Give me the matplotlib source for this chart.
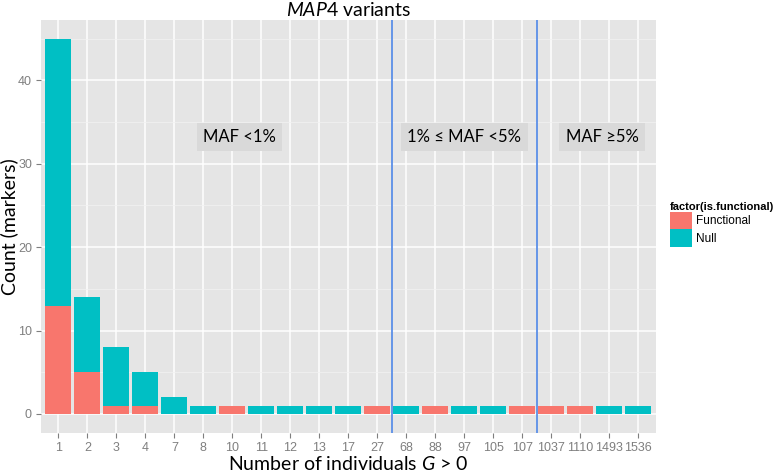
import numpy as np
import matplotlib.pyplot as plt
from matplotlib.patches import Patch

plt.rcParams['mathtext.fontset'] = 'custom'
plt.rcParams['mathtext.it'] = 'Lato:italic'
plt.rcParams['mathtext.rm'] = 'Lato'

# data
categories = ['1', '2', '3', '4', '7', '8', '10', '11', '12', '13', '17', '27',
              '68', '88', '97', '105', '107', '1037', '1110', '1493', '1536']
functional = [13, 5, 1, 1, 0, 0, 1, 0, 0, 0, 0, 1, 0, 1, 0, 0, 1, 1, 1, 0, 0]
null = [32, 9, 7, 4, 2, 1, 0, 1, 1, 1, 1, 0, 1, 0, 1, 1, 0, 0, 0, 1, 1]
maf_breaks = [11.5, 16.5]
region_labels = ['MAF <1%', '1% \u2264 MAF <5%', 'MAF \u22655%']
region_x = [6.25, 14.0, 18.75]
region_y = 33.2

col_f = '#F8766D'
col_n = '#00BFC4'

fig = plt.figure(figsize=(7.78, 4.75), dpi=100)
ax = fig.add_axes([0.0527, 0.089, 0.79, 0.869])
ax.set_facecolor('#E5E5E5')

x = np.arange(len(categories))
ax.bar(x, functional, width=0.9, color=col_f, zorder=3)
ax.bar(x, null, width=0.9, bottom=functional, color=col_n, zorder=3)

for b in maf_breaks:
    ax.axvline(b, color='#5B8FE8', lw=1.3, zorder=4)

for lab, xx in zip(region_labels, region_x):
    ax.text(xx, region_y, lab, ha='center', va='center', fontsize=12,
            family='Lato', color='black', zorder=5,
            bbox=dict(facecolor='#D9D9D9', edgecolor='none', pad=4.5))

ax.set_xlim(-0.6, len(categories) - 0.4)
ax.set_ylim(-2.25, 47.25)
ax.set_xticks(x)
ax.set_xticklabels(categories)
ax.set_yticks([0, 10, 20, 30, 40])
ax.set_yticks([5, 15, 25, 35, 45], minor=True)

ax.grid(which='major', color='white', lw=1.1, zorder=0)
ax.grid(which='minor', axis='y', color='#F2F2F2', lw=0.5, zorder=0)
ax.set_axisbelow(True)
for s in ax.spines.values():
    s.set_visible(False)
ax.tick_params(which='major', length=3.5, color='#7F7F7F', labelcolor='#7F7F7F',
               labelsize=9, pad=3)
ax.tick_params(which='minor', length=0)
for t in ax.get_xticklabels() + ax.get_yticklabels():
    t.set_family('Liberation Sans')

ax.set_title(r'$\mathit{MAP4}$ variants', fontsize=14, family='Lato', pad=3)
ax.set_xlabel(r'Number of individuals $G$ > 0', fontsize=14, family='Lato', labelpad=1)
ax.set_ylabel('Count (markers)', fontsize=14, family='Lato', labelpad=0)

handles = [Patch(facecolor=col_f, edgecolor='none', label='Functional'),
           Patch(facecolor=col_n, edgecolor='none', label='Null')]
leg = fig.legend(handles=handles, title='factor(is.functional)', loc='upper left',
                 bbox_to_anchor=(0.855, 0.585), frameon=False,
                 prop={'family': 'Liberation Sans', 'size': 8.5},
                 handlelength=1.9, handleheight=1.9, handletextpad=0.3,
                 labelspacing=0.0, borderaxespad=0)
leg.get_title().set_fontweight('bold')
leg.get_title().set_fontsize(8)
leg.get_title().set_family('Liberation Sans')
leg._legend_box.align = 'left'

fig.savefig('out.png', dpi=100)
